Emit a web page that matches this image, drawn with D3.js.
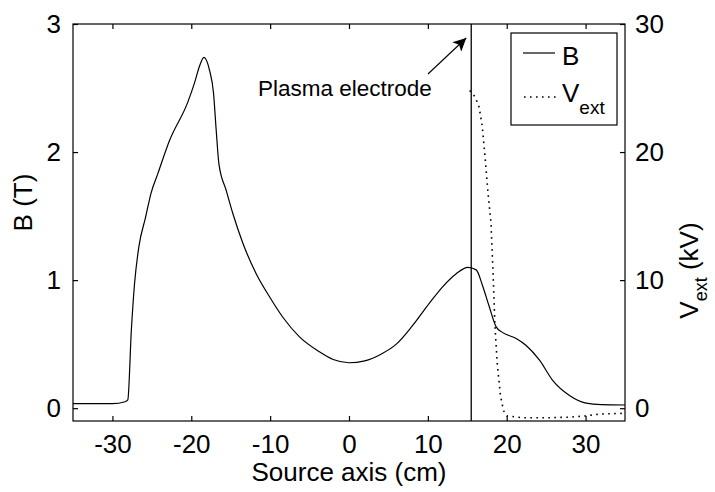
<!DOCTYPE html>
<html>
<head>
<meta charset="utf-8">
<script src="https://cdn.jsdelivr.net/npm/d3@7"></script>
<style>
  html, body { margin: 0; padding: 0; background: #fff; }
  svg { display: block; }
  text { font-family: "Liberation Sans", Arial, Helvetica, sans-serif; fill: #000; }
</style>
</head>
<body>
<svg id="chart" width="715" height="492"></svg>
<script>
// Magnetic field on the source axis (cm -> T)
const bPos = [-35, -30, -28.4, -28.05, -27.6, -27.2, -26.65, -25.8, -25.1, -24.25, -22.76, -20.44, -19.59, -18.96, -18.4,
              -17.69, -17.18, -16.84, -16.5, -15.57, -14.73, -13.47, -11.77, -10.08, -8.39, -6.28, -3.74, -2.0, 0,
              2.0, 4.0, 6.0, 8.0, 10.2, 11.9, 13.6, 15.07, 16.13, 16.97, 17.8, 18.66, 19.5, 21.2, 22.47, 24.16,
              25.8, 27.96, 30.08, 32.0, 35];
const bField = [0.035, 0.035, 0.05, 0.065, 0.61, 0.97, 1.26, 1.49, 1.68, 1.83, 2.09, 2.39, 2.54, 2.67, 2.74,
                2.64, 2.46, 2.17, 1.91, 1.70, 1.52, 1.29, 1.05, 0.87, 0.71, 0.557, 0.44, 0.38, 0.355,
                0.37, 0.42, 0.50, 0.64, 0.82, 0.95, 1.05, 1.10, 1.08, 0.95, 0.79, 0.635, 0.59, 0.545, 0.49, 0.375,
                0.22, 0.10, 0.04, 0.028, 0.025];

// Extraction voltage on the source axis (cm -> kV)
const vPos = [15.3, 16.0, 16.5, 16.9, 17.2, 17.6, 18.0, 18.3, 18.5, 18.8, 19.2, 19.6, 20.0, 22, 25, 28, 30, 32, 35];
const vExt = [24.8, 24.3, 23.5, 22.0, 20.0, 17.0, 14.5, 10.0, 6.5, 3.5, 1.0, -0.2, -0.6, -0.75, -0.75, -0.7, -0.6, -0.45, -0.4];

// Plasma electrode position (cm)
const electrodePos = [15.5];

// Tick values
const xTicks = [-30, -20, -10, 0, 10, 20, 30];
const bTicks = [0, 1, 2, 3];
const vTicks = [0, 10, 20, 30];

const W = 715, H = 492;
const margin = {left: 73, top: 24, right: 90, bottom: 71};
const x0 = margin.left, x1 = W - margin.right;
const y0 = H - margin.bottom, y1 = margin.top;

const x = d3.scaleLinear().domain([-35, 35]).range([x0, x1]);
const yB = d3.scaleLinear().domain([-0.1, 3]).range([y0, y1]);
const yV = d3.scaleLinear().domain([-1, 30]).range([y0, y1]);

const svg = d3.select("#chart");
const tickFont = 26;
const plain = d => String(d);   // hyphen-minus, as printed on the axes

// Plot frame
svg.append("rect")
  .attr("x", x0).attr("y", y1).attr("width", x1 - x0).attr("height", y0 - y1)
  .attr("fill", "none").attr("stroke", "#000").attr("stroke-width", 1.2);

// Axes with inward ticks
function styleAxis(g) {
  g.select(".domain").remove();
  g.selectAll(".tick line").attr("stroke", "#000").attr("stroke-width", 1.2);
  g.selectAll(".tick text").style("font-size", tickFont + "px")
    .style("font-family", '"Liberation Sans", Arial, sans-serif');
}

svg.append("g").attr("transform", `translate(0,${y0})`)
  .call(d3.axisBottom(x).tickValues(xTicks).tickFormat(plain).tickSizeInner(-5).tickPadding(14))
  .call(styleAxis);
svg.append("g").attr("transform", `translate(0,${y1})`)
  .call(d3.axisTop(x).tickValues(xTicks).tickFormat("").tickSizeInner(-5))
  .call(styleAxis);
svg.append("g").attr("transform", `translate(${x0},0)`)
  .call(d3.axisLeft(yB).tickValues(bTicks).tickFormat(plain).tickSizeInner(-5).tickPadding(12))
  .call(styleAxis);
svg.append("g").attr("transform", `translate(${x1},0)`)
  .call(d3.axisRight(yV).tickValues(vTicks).tickFormat(plain).tickSizeInner(-5).tickPadding(10))
  .call(styleAxis);

svg.append("clipPath").attr("id", "plotclip")
  .append("rect").attr("x", x0).attr("y", y1).attr("width", x1 - x0).attr("height", y0 - y1);

const plot = svg.append("g").attr("clip-path", "url(#plotclip)");

// B curve
plot.append("path")
  .datum(d3.zip(bPos, bField))
  .attr("fill", "none").attr("stroke", "#000").attr("stroke-width", 1.2)
  .attr("d", d3.line().x(d => x(d[0])).y(d => yB(d[1])).curve(d3.curveMonotoneX));

// V_ext curve (dotted)
plot.append("path")
  .datum(d3.zip(vPos, vExt))
  .attr("fill", "none").attr("stroke", "#000").attr("stroke-width", 1.6)
  .attr("stroke-dasharray", "1.6,4.4")
  .attr("d", d3.line().x(d => x(d[0])).y(d => yV(d[1])).curve(d3.curveLinear));

// Plasma electrode marker
plot.selectAll(".electrode").data(electrodePos).enter().append("line")
  .attr("class", "electrode")
  .attr("x1", d => x(d)).attr("x2", d => x(d))
  .attr("y1", y1).attr("y2", y0)
  .attr("stroke", "#000").attr("stroke-width", 1.3);

// Annotation arrow
svg.append("defs").append("marker")
  .attr("id", "head").attr("viewBox", "0 0 10 10")
  .attr("refX", 10).attr("refY", 5)
  .attr("markerWidth", 17).attr("markerHeight", 13)
  .attr("markerUnits", "userSpaceOnUse")
  .attr("orient", "auto")
  .append("path").attr("d", "M0,0 L10,5 L0,10 L2.5,5 Z").attr("fill", "#000");

svg.append("line")
  .attr("x1", 428).attr("y1", 74).attr("x2", x(electrodePos[0]) - 5).attr("y2", 38)
  .attr("stroke", "#000").attr("stroke-width", 1.1)
  .attr("marker-end", "url(#head)");

svg.append("text")
  .attr("x", 258).attr("y", 96)
  .style("font-size", "22.5px")
  .text("Plasma electrode");

// Legend
const lg = svg.append("g");
lg.append("rect").attr("x", 511).attr("y", 33).attr("width", 106).attr("height", 92)
  .attr("fill", "#fff").attr("stroke", "#000").attr("stroke-width", 1.2);
lg.append("line").attr("x1", 523).attr("x2", 555).attr("y1", 53).attr("y2", 53)
  .attr("stroke", "#000").attr("stroke-width", 1.2);
lg.append("text").attr("x", 562).attr("y", 65).style("font-size", "26px").text("B");
lg.append("line").attr("x1", 524).attr("x2", 556).attr("y1", 97).attr("y2", 97)
  .attr("stroke", "#000").attr("stroke-width", 1.6).attr("stroke-dasharray", "1.6,4.4");
const vt = lg.append("text").attr("x", 562).attr("y", 102).style("font-size", "26px");
vt.append("tspan").text("V");
vt.append("tspan").attr("dy", 12).style("font-size", "19px").text("ext");

// Axis titles
svg.append("text")
  .attr("x", x(0)).attr("y", 481)
  .attr("text-anchor", "middle").style("font-size", "26px")
  .text("Source axis (cm)");

svg.append("text")
  .attr("transform", `translate(32,${(y0 + y1) / 2 - 20}) rotate(-90)`)
  .attr("text-anchor", "middle").style("font-size", "26px")
  .text("B (T)");

const vl = svg.append("text")
  .attr("transform", `translate(698,${(y0 + y1) / 2 + 48}) rotate(-90)`)
  .attr("text-anchor", "middle").style("font-size", "26px");
vl.append("tspan").text("V");
vl.append("tspan").attr("dy", 9).style("font-size", "18px").text("ext");
vl.append("tspan").attr("dy", -9).text(" (kV)");
</script>
</body>
</html>
